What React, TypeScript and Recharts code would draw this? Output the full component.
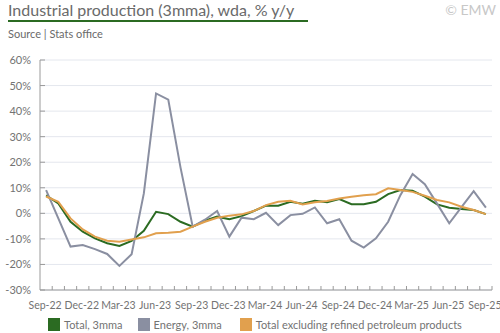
import React from "react";
import { LineChart, Line, XAxis, YAxis, CartesianGrid } from "recharts";

// monthly, Sep-22 .. Sep-25
const months = [
  "Sep-22", "Oct-22", "Nov-22", "Dec-22", "Jan-23", "Feb-23", "Mar-23", "Apr-23", "May-23",
  "Jun-23", "Jul-23", "Aug-23", "Sep-23", "Oct-23", "Nov-23", "Dec-23", "Jan-24", "Feb-24",
  "Mar-24", "Apr-24", "May-24", "Jun-24", "Jul-24", "Aug-24", "Sep-24", "Oct-24", "Nov-24",
  "Dec-24", "Jan-25", "Feb-25", "Mar-25", "Apr-25", "May-25", "Jun-25", "Jul-25", "Aug-25",
  "Sep-25"
];

const total = [
  7.0, 3.9, -3.3, -7.2, -9.8, -11.7, -12.8, -10.8, -6.8, 0.6, -0.3, -3.3, -5.2,
  -2.9, -1.3, -2.3, -1.1, 0.9, 3.0, 3.0, 4.5, 3.8, 4.9, 4.3, 5.6, 3.6, 3.6,
  4.5, 7.5, 9.1, 8.8, 6.5, 3.5, 2.2, 1.7, 1.3, -0.3
];

const energy = [
  9.1, -2.0, -13.0, -12.4, -14.0, -15.9, -20.6, -16.0, 7.8, 46.9, 44.5, 18.0, -5.2,
  -2.5, 0.9, -9.1, -1.7, -2.3, 0.2, -4.6, -0.7, -0.2, 2.3, -3.9, -2.3, -10.7, -13.4,
  -9.8, -3.3, 7.1, 15.4, 11.4, 3.8, -3.9, 2.4, 8.7, 2.2
];

const exclRefined = [
  6.6, 4.5, -2.0, -6.3, -9.1, -10.7, -11.1, -10.2, -9.4, -7.8, -7.6, -7.2, -5.2,
  -3.3, -1.7, -0.9, -0.4, 0.9, 3.2, 4.5, 4.9, 3.5, 4.3, 4.8, 5.8, 6.5, 7.1,
  7.5, 9.8, 9.1, 8.4, 6.9, 5.2, 4.3, 2.6, 1.3, -0.3
];

const yTicks = [-30, -20, -10, 0, 10, 20, 30, 40, 50, 60];

const series = [
  { key: "total", name: "Total, 3mma", color: "#2b6b22" },
  { key: "energy", name: "Energy, 3mma", color: "#8a8fa1" },
  { key: "excl", name: "Total excluding refined petroleum products", color: "#e1a04e" }
];

const data = months.map((m, i) => ({
  month: m,
  total: total[i],
  energy: energy[i],
  excl: exclRefined[i]
}));

const W = 500;
const H = 333;
const PLOT_LEFT = 40;
const PLOT_RIGHT = 492;
const PLOT_TOP = 60;
const PLOT_BOTTOM = 290;
const HALF = (PLOT_RIGHT - PLOT_LEFT) / months.length / 2;
const FONT = "Lato, 'Open Sans', sans-serif";
const AXIS = "#9a9a9a";
const TEXT = "#737373";

const XTick = (props: any) => {
  const { x, payload, index } = props;
  const i = index ?? payload.index;
  return (
    <g>
      <line x1={x + HALF} x2={x + HALF} y1={PLOT_BOTTOM - 4} y2={PLOT_BOTTOM} stroke={AXIS} strokeWidth={1} />
      {i % 3 === 0 && (
        <text x={x - 1} y={PLOT_BOTTOM + 19} textAnchor="middle" fill={TEXT} fontSize={10.5} fontFamily={FONT}>
          {payload.value}
        </text>
      )}
    </g>
  );
};

const YTick = (props: any) => {
  const { y, payload } = props;
  return (
    <g>
      <line x1={PLOT_LEFT} x2={PLOT_LEFT + 5} y1={y} y2={y} stroke={AXIS} strokeWidth={1} />
      <text x={31} y={y + 4} textAnchor="end" fill={TEXT} fontSize={11} fontFamily={FONT}>
        {payload.value}%
      </text>
    </g>
  );
};

export default function App() {
  return (
    <div style={{ position: "absolute", left: 0, top: 0, width: W, height: H, background: "#fff", fontFamily: FONT }}>
      <div style={{ position: "absolute", left: 8, top: 0, fontSize: 16, color: "#6a6a6a", lineHeight: "19px", whiteSpace: "nowrap" }}>
        Industrial production (3mma), wda, % y/y
      </div>
      <div style={{ position: "absolute", left: 8, top: 20, width: 300, height: 2, background: "#2b6b22" }} />
      <div style={{ position: "absolute", right: 4, top: 1, fontSize: 14, color: "#c8c8c8", lineHeight: "17px" }}>
        © EMW
      </div>
      <div style={{ position: "absolute", left: 8, top: 27, fontSize: 11, color: "#6a6a6a", lineHeight: "14px" }}>
        Source | Stats office
      </div>
      <LineChart
        width={W}
        height={H}
        data={data}
        margin={{ top: PLOT_TOP, right: W - PLOT_RIGHT, bottom: H - PLOT_BOTTOM - 30, left: 5 }}
      >
        <CartesianGrid vertical={false} stroke="#e4e7ee" />
        <XAxis
          dataKey="month"
          interval={0}
          height={30}
          padding={{ left: HALF, right: HALF }}
          tickLine={false}
          axisLine={{ stroke: AXIS }}
          tick={<XTick />}
        />
        <YAxis
          width={35}
          domain={[-30, 60]}
          ticks={yTicks}
          interval={0}
          tickLine={false}
          axisLine={{ stroke: AXIS }}
          tick={<YTick />}
        />
        {series.map((s) => (
          <Line
            key={s.key}
            type="linear"
            dataKey={s.key}
            name={s.name}
            stroke={s.color}
            strokeWidth={2}
            dot={false}
            isAnimationActive={false}
          />
        ))}
      </LineChart>
      <div style={{ position: "absolute", left: 48, top: 318, display: "flex", alignItems: "center", fontSize: 11, color: TEXT, whiteSpace: "nowrap" }}>
        {series.map((s, i) => (
          <div key={s.key} style={{ display: "flex", alignItems: "center", marginRight: i === 0 ? 15 : 18 }}>
            <span style={{ display: "inline-block", width: 12, height: 13, background: s.color, marginRight: 4 }} />
            {s.name}
          </div>
        ))}
      </div>
    </div>
  );
}
